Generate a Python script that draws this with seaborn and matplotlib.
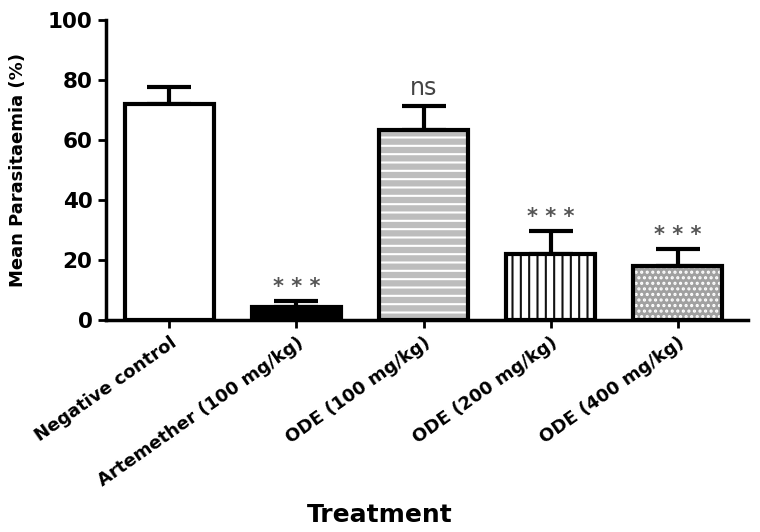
import numpy as np
import pandas as pd
import seaborn as sns
import matplotlib.pyplot as plt

# values
treatments = ["Negative control", "Artemether (100 mg/kg)", "ODE (100 mg/kg)",
              "ODE (200 mg/kg)", "ODE (400 mg/kg)"]
mean_parasitaemia = [72.2, 4.3, 63.5, 22.2, 18.2]
sem = [5.6, 2.0, 7.8, 7.5, 5.5]
significance = ["", "* * *", "ns", "* * *", "* * *"]

face_colors = ["white", "black", "#bdbdbd", "white", "#a0a0a0"]
hatches = [None, None, "--", "||", "..."]
hatch_colors = ["black", "black", "white", "#111111", "white"]

df = pd.DataFrame({"Treatment": treatments, "Mean": mean_parasitaemia})

sns.set_style("ticks")
plt.rcParams["font.family"] = ["DejaVu Sans"]
plt.rcParams["font.weight"] = "bold"
plt.rcParams["hatch.linewidth"] = 1.5
plt.rcParams["text.color"] = "black"
plt.rcParams["axes.labelcolor"] = "black"
plt.rcParams["xtick.color"] = "black"
plt.rcParams["ytick.color"] = "black"
plt.rcParams["axes.edgecolor"] = "black"

fig = plt.figure(figsize=(7.6, 5.32), dpi=100)
ax = fig.add_axes([0.139, 0.398, 0.845, 0.564])

sns.barplot(data=df, x="Treatment", y="Mean", order=treatments, width=0.7,
            errorbar=None, color="white", ax=ax, zorder=2)

for patch, fc, h, hc in zip(ax.patches, face_colors, hatches, hatch_colors):
    patch.set_facecolor(fc)
    patch.set_edgecolor("black")
    patch.set_linewidth(3)
    if h:
        patch.set_hatch(h)
    patch._hatch_color = plt.matplotlib.colors.to_rgba(hc)

x = np.arange(len(treatments))
ax.errorbar(x, mean_parasitaemia, yerr=[np.zeros(len(sem)), sem], fmt="none",
            ecolor="black", elinewidth=3, capsize=16, capthick=3, zorder=1)

for xi, m, s, lab in zip(x, mean_parasitaemia, sem, significance):
    if lab == "ns":
        ax.text(xi, m + s + 2, lab, ha="center", va="bottom",
                fontsize=17, fontweight="normal", color="#444444")
    elif lab:
        ax.text(xi, m + s + 1.5, lab, ha="center", va="bottom",
                fontsize=15, fontweight="bold", color="#555555")

ax.set_ylim(0, 100)
ax.set_xlim(-0.5, 4.55)
ax.set_yticks([0, 20, 40, 60, 80, 100])
ax.set_ylabel("Mean Parasitaemia (%)", fontsize=13, fontweight="bold", labelpad=15)
ax.set_xlabel("Treatment", fontsize=18, fontweight="bold")
ax.xaxis.set_label_coords(0.427, -0.61)
ax.tick_params(axis="y", labelsize=15.5, width=2, length=6)
ax.tick_params(axis="x", labelsize=13, width=2, length=6)
plt.setp(ax.get_xticklabels(), rotation=35, ha="right", rotation_mode="anchor",
         fontweight="bold")
plt.setp(ax.get_yticklabels(), fontweight="bold")
for side in ["left", "bottom"]:
    ax.spines[side].set_linewidth(2.5)
sns.despine(ax=ax)

fig.savefig("out.png", dpi=100)
